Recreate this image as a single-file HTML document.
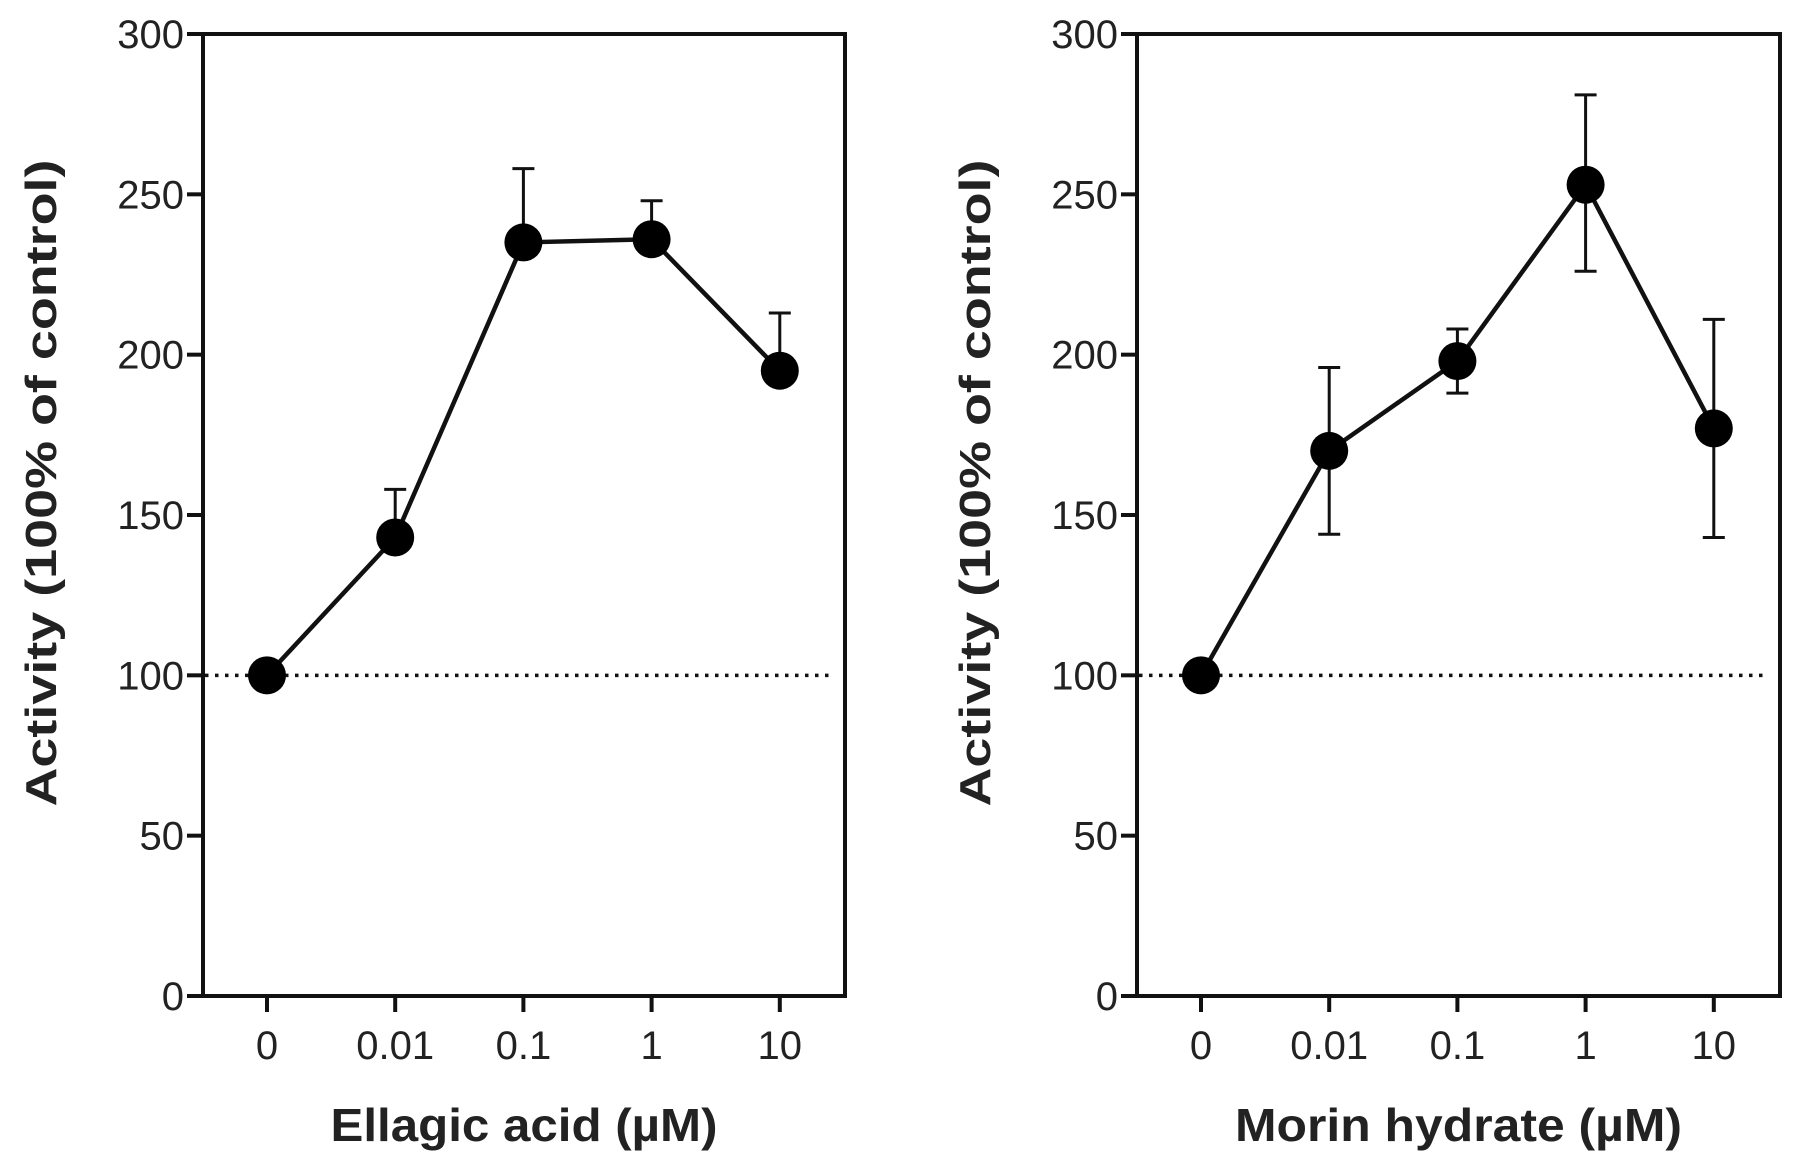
<!DOCTYPE html>
<html><head><meta charset="utf-8"><style>
html,body{margin:0;padding:0;background:#fff;}
svg{display:block;font-family:"Liberation Sans",sans-serif;}
</style></head><body>
<svg id="chart" width="1795" height="1163" viewBox="0 0 1795 1163"></svg>
<script>
const categories = ["0","0.01","0.1","1","10"];
const yTicks = [0,50,100,150,200,250,300];
const ellagicValues = [100,143,235,236,195];
const ellagicErrUp = [0,15,23,12,18];
const ellagicErrDown = [0,0,0,0,0];
const morinValues = [100,170,198,253,177];
const morinErrUp = [0,26,10,28,34];
const morinErrDown = [0,26,10,27,34];
const baseline = 100;

const NS = "http://www.w3.org/2000/svg";
const svg = document.getElementById("chart");
function mk(tag, attrs, parent){
  const e = document.createElementNS(NS, tag);
  for (const k in attrs) e.setAttribute(k, attrs[k]);
  (parent||svg).appendChild(e);
  return e;
}
function panel(id, x0, x1, title, titleLen, vals, up, down){
  const g = mk("g", {});
  
  
  const yTop = 34, yBot = 996;
  const yS = v => yBot - v * (yBot - yTop) / 300;
  const xS = i => x0 + 64 + i * 128.2;
  const box = mk("rect", {x:x0, y:yTop, width:x1-x0, height:yBot-yTop, fill:"none", stroke:"#111", "stroke-width":4}, g);
  
  
  yTicks.forEach(t => {
    const y = yS(t);
    const tk = mk("line", {x1:x0-16, x2:x0, y1:y, y2:y, stroke:"#111", "stroke-width":4}, g);
    
    
    const tx = mk("text", {x:x0-19, y:y+14, "text-anchor":"end", "font-size":40, fill:"#222"}, g);
    tx.textContent = t;
    
    
  });
  categories.forEach((c, i) => {
    const x = xS(i);
    const tk = mk("line", {x1:x, x2:x, y1:yBot, y2:yBot+16, stroke:"#111", "stroke-width":4}, g);
    
    
    const tx = mk("text", {x:x, y:1059, "text-anchor":"middle", "font-size":40, fill:"#222"}, g);
    tx.textContent = c;
    
    
  });
  const yt = mk("text", {x:0, y:0, transform:`translate(${x0-147},483) rotate(-90)`, "text-anchor":"middle", "font-size":44, "font-weight":"bold", fill:"#222", textLength:647, lengthAdjust:"spacingAndGlyphs"}, g);
  yt.textContent = "Activity (100% of control)";
  
  
  const xt = mk("text", {x:(x0+x1)/2, y:1141, "text-anchor":"middle", "font-size":46, "font-weight":"bold", fill:"#222", textLength:titleLen, lengthAdjust:"spacingAndGlyphs"}, g);
  xt.textContent = title;
  
  
  const bl = mk("line", {x1:x0+2, x2:x1-14, y1:yS(baseline), y2:yS(baseline), stroke:"#111", "stroke-width":3.5, "stroke-dasharray":"3.5 6.5"}, g);
  
  
  vals.forEach((v, i) => {
    if (!up[i] && !down[i]) return;
    const x = xS(i);
    const eb = mk("path", {d:`M${x},${yS(v+up[i])}V${yS(v-down[i])}M${x-11},${yS(v+up[i])}H${x+11}` + (down[i]?`M${x-11},${yS(v-down[i])}H${x+11}`:""), stroke:"#111", "stroke-width":3, fill:"none"}, g);
    
    
  });
  const ln = mk("polyline", {points: vals.map((v,i)=>xS(i)+","+yS(v)).join(" "), fill:"none", stroke:"#111", "stroke-width":4.5}, g);
  
  
  vals.forEach((v, i) => {
    const c = mk("circle", {cx:xS(i), cy:yS(v), r:19, fill:"#000"}, g);
    
    
  });
}
panel("ellagic-acid", 203, 845, "Ellagic acid (\u00b5M)", 387, ellagicValues, ellagicErrUp, ellagicErrDown);
panel("morin-hydrate", 1137, 1780, "Morin hydrate (\u00b5M)", 447, morinValues, morinErrUp, morinErrDown);
</script>
</body></html>
